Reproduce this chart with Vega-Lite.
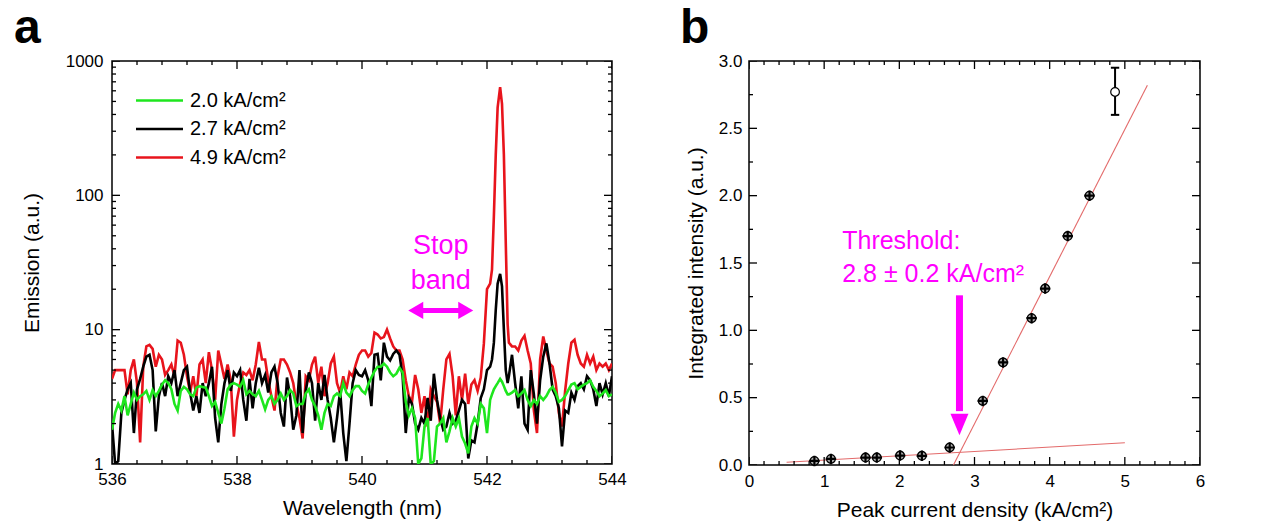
{
  "$schema": "https://vega.github.io/schema/vega-lite/v6.json",
  "padding": {"left": 13, "top": 4, "right": 0, "bottom": 0},
  "config": {
    "font": "Liberation Sans",
    "view": {"stroke": "#000", "strokeWidth": 1.5},
    "axis": {"domain": false, "grid": false, "labelColor": "#000", "labelFontSize": 17, "titleFontSize": 21, "titleFontWeight": "normal", "titleColor": "#000", "labelFlush": false, "labelOverlap": false},
    "title": {"color": "#000", "fontSize": 48, "fontWeight": "bold", "anchor": "start", "frame": "group", "baseline": "alphabetic"}
  },
  "datasets": {
    "spec": [
      {"w":536.00,"g":1.8,"k":2.0,"r":4.3},{"w":536.05,"g":2.4,"k":1.0,"r":5.0},{"w":536.10,"g":2.8,"k":1.05,"r":5.0},{"w":536.15,"g":2.5,"k":2.4,"r":5.0},{"w":536.20,"g":3.2,"k":3.0,"r":5.0},{"w":536.25,"g":2.3,"k":3.6,"r":3.3},{"w":536.30,"g":2.8,"k":4.0,"r":5.0},{"w":536.35,"g":3.4,"k":1.7,"r":6.0},{"w":536.40,"g":3.0,"k":3.6,"r":4.0},{"w":536.45,"g":3.2,"k":4.3,"r":1.45},
      {"w":536.50,"g":3.3,"k":5.3,"r":5.3},{"w":536.55,"g":3.5,"k":6.3,"r":7.5},{"w":536.60,"g":3.0,"k":6.5,"r":7.7},{"w":536.65,"g":3.55,"k":5.0,"r":7.2},{"w":536.70,"g":3.2,"k":1.75,"r":5.3},{"w":536.75,"g":3.5,"k":3.2,"r":6.5},{"w":536.80,"g":3.9,"k":4.0,"r":6.0},{"w":536.85,"g":4.2,"k":3.2,"r":4.6},{"w":536.90,"g":4.0,"k":4.5,"r":5.0},{"w":536.95,"g":3.6,"k":4.0,"r":5.5},
      {"w":537.00,"g":2.8,"k":5.0,"r":4.5},{"w":537.05,"g":2.5,"k":3.2,"r":8.3},{"w":537.10,"g":3.5,"k":4.0,"r":8.0},{"w":537.15,"g":3.75,"k":5.0,"r":6.5},{"w":537.20,"g":3.6,"k":5.3,"r":4.5},{"w":537.25,"g":3.3,"k":3.4,"r":3.4},{"w":537.30,"g":3.2,"k":2.5,"r":4.5},{"w":537.35,"g":3.7,"k":3.2,"r":3.2},{"w":537.40,"g":3.8,"k":2.4,"r":5.5},{"w":537.45,"g":3.75,"k":4.0,"r":6.0},
      {"w":537.50,"g":3.7,"k":3.2,"r":4.0},{"w":537.55,"g":3.2,"k":4.0,"r":6.8},{"w":537.60,"g":2.7,"k":5.3,"r":5.0},{"w":537.65,"g":2.9,"k":2.2,"r":3.0},{"w":537.70,"g":2.4,"k":1.45,"r":7.0},{"w":537.75,"g":2.0,"k":2.8,"r":5.5},{"w":537.80,"g":2.6,"k":4.0,"r":4.3},{"w":537.85,"g":3.6,"k":5.0,"r":5.5},{"w":537.90,"g":3.9,"k":3.5,"r":4.2},{"w":537.95,"g":4.0,"k":4.8,"r":1.6},
      {"w":538.00,"g":3.9,"k":4.5,"r":3.0},{"w":538.05,"g":3.75,"k":5.0,"r":4.0},{"w":538.10,"g":4.2,"k":3.0,"r":4.8},{"w":538.15,"g":3.3,"k":2.1,"r":4.6},{"w":538.20,"g":3.5,"k":4.3,"r":5.0},{"w":538.25,"g":3.3,"k":2.6,"r":4.2},{"w":538.30,"g":3.2,"k":4.0,"r":5.5},{"w":538.35,"g":3.5,"k":5.2,"r":8.1},{"w":538.40,"g":3.0,"k":4.0,"r":6.0},{"w":538.45,"g":2.55,"k":4.6,"r":6.0},
      {"w":538.50,"g":3.0,"k":3.4,"r":4.2},{"w":538.55,"g":3.2,"k":4.8,"r":3.2},{"w":538.60,"g":2.8,"k":5.3,"r":2.5},{"w":538.65,"g":3.0,"k":4.0,"r":4.5},{"w":538.70,"g":3.35,"k":2.4,"r":6.0},{"w":538.75,"g":3.0,"k":1.9,"r":6.0},{"w":538.80,"g":3.2,"k":4.4,"r":5.5},{"w":538.85,"g":3.55,"k":3.2,"r":4.8},{"w":538.90,"g":3.35,"k":1.8,"r":4.0},{"w":538.95,"g":2.7,"k":2.3,"r":2.8},
      {"w":539.00,"g":2.8,"k":5.0,"r":2.2},{"w":539.05,"g":2.8,"k":1.7,"r":1.55},{"w":539.10,"g":3.35,"k":3.5,"r":4.5},{"w":539.15,"g":3.6,"k":4.8,"r":4.2},{"w":539.20,"g":3.0,"k":4.0,"r":5.5},{"w":539.25,"g":2.7,"k":2.1,"r":6.3},{"w":539.30,"g":2.3,"k":4.0,"r":4.0},{"w":539.35,"g":1.8,"k":3.0,"r":5.3},{"w":539.40,"g":2.4,"k":4.6,"r":3.2},{"w":539.45,"g":2.8,"k":3.0,"r":4.0},
      {"w":539.50,"g":2.7,"k":2.2,"r":5.6},{"w":539.55,"g":3.2,"k":1.45,"r":6.3},{"w":539.60,"g":3.35,"k":2.2,"r":4.0},{"w":539.65,"g":3.2,"k":3.5,"r":3.4},{"w":539.70,"g":4.0,"k":1.7,"r":4.5},{"w":539.75,"g":3.4,"k":1.05,"r":3.6},{"w":539.80,"g":3.2,"k":2.0,"r":4.8},{"w":539.85,"g":3.55,"k":4.0,"r":4.5},{"w":539.90,"g":3.8,"k":5.0,"r":5.5},{"w":539.95,"g":3.8,"k":4.6,"r":6.5},
      {"w":540.00,"g":3.5,"k":4.5,"r":7.0},{"w":540.05,"g":3.35,"k":5.0,"r":7.0},{"w":540.10,"g":3.9,"k":4.2,"r":6.3},{"w":540.15,"g":4.4,"k":2.7,"r":6.7},{"w":540.20,"g":4.9,"k":6.5,"r":9.5},{"w":540.25,"g":5.3,"k":6.6,"r":9.2},{"w":540.30,"g":5.3,"k":4.2,"r":8.6},{"w":540.35,"g":5.6,"k":8.0,"r":8.8},{"w":540.40,"g":5.3,"k":6.3,"r":10.0},{"w":540.45,"g":4.8,"k":5.9,"r":8.6},
      {"w":540.50,"g":4.5,"k":6.6,"r":7.5},{"w":540.55,"g":4.7,"k":7.0,"r":7.0},{"w":540.60,"g":5.2,"k":6.5,"r":7.0},{"w":540.65,"g":4.8,"k":4.5,"r":6.0},{"w":540.70,"g":2.9,"k":1.7,"r":4.2},{"w":540.75,"g":2.3,"k":3.1,"r":3.2},{"w":540.80,"g":2.6,"k":2.8,"r":2.9},{"w":540.85,"g":2.2,"k":2.0,"r":4.6},{"w":540.90,"g":1.0,"k":1.8,"r":3.6},{"w":540.95,"g":1.1,"k":2.2,"r":2.4},
      {"w":541.00,"g":1.9,"k":2.0,"r":3.2},{"w":541.05,"g":2.2,"k":3.1,"r":1.9},{"w":541.10,"g":1.0,"k":2.1,"r":3.6},{"w":541.15,"g":1.05,"k":4.7,"r":3.2},{"w":541.20,"g":1.9,"k":3.0,"r":2.9},{"w":541.25,"g":2.0,"k":2.2,"r":2.0},{"w":541.30,"g":2.2,"k":1.8,"r":3.6},{"w":541.35,"g":1.45,"k":1.9,"r":6.0},{"w":541.40,"g":1.75,"k":2.4,"r":6.6},{"w":541.45,"g":2.2,"k":2.0,"r":4.5},
      {"w":541.50,"g":1.9,"k":2.1,"r":2.3},{"w":541.55,"g":2.2,"k":2.5,"r":4.5},{"w":541.60,"g":1.6,"k":3.0,"r":3.0},{"w":541.65,"g":1.42,"k":2.8,"r":4.7},{"w":541.70,"g":1.2,"k":1.1,"r":2.8},{"w":541.75,"g":1.9,"k":1.5,"r":3.9},{"w":541.80,"g":2.2,"k":1.45,"r":4.2},{"w":541.85,"g":2.0,"k":2.0,"r":3.5},{"w":541.90,"g":2.8,"k":3.1,"r":4.4},{"w":541.95,"g":2.6,"k":3.6,"r":7.9},
      {"w":542.00,"g":1.7,"k":5.0,"r":20},{"w":542.05,"g":3.0,"k":5.3,"r":22},{"w":542.08,"g":3.3,"k":6.0,"r":28},{"w":542.11,"g":3.6,"k":8.0,"r":70},{"w":542.14,"g":3.8,"k":14,"r":200},{"w":542.17,"g":4.0,"k":22,"r":450},{"w":542.21,"g":4.3,"k":26,"r":640},{"w":542.24,"g":4.1,"k":21,"r":480},{"w":542.27,"g":3.8,"k":10,"r":200},{"w":542.30,"g":3.5,"k":5.0,"r":45},{"w":542.33,"g":3.3,"k":4.0,"r":11},
      {"w":542.35,"g":3.3,"k":4.5,"r":8.0},{"w":542.40,"g":3.4,"k":6.5,"r":7.5},{"w":542.45,"g":3.55,"k":4.0,"r":7.5},{"w":542.50,"g":3.2,"k":2.6,"r":7.0},{"w":542.55,"g":3.35,"k":4.5,"r":8.3},{"w":542.60,"g":3.55,"k":2.0,"r":9.0},{"w":542.65,"g":3.0,"k":1.8,"r":7.0},{"w":542.70,"g":2.7,"k":5.0,"r":5.6},{"w":542.75,"g":3.0,"k":3.3,"r":2.5},{"w":542.80,"g":2.8,"k":2.0,"r":1.7},
      {"w":542.85,"g":3.2,"k":4.2,"r":6.0},{"w":542.90,"g":3.0,"k":6.3,"r":8.9},{"w":542.95,"g":3.2,"k":7.9,"r":7.0},{"w":543.00,"g":3.55,"k":5.6,"r":5.6},{"w":543.05,"g":3.75,"k":3.6,"r":5.3},{"w":543.10,"g":3.4,"k":3.2,"r":4.0},{"w":543.15,"g":2.9,"k":2.6,"r":2.4},{"w":543.20,"g":3.0,"k":1.35,"r":1.9},{"w":543.25,"g":3.2,"k":2.5,"r":3.5},{"w":543.30,"g":3.55,"k":2.4,"r":5.6},
      {"w":543.35,"g":3.9,"k":3.4,"r":8.0},{"w":543.40,"g":4.0,"k":3.0,"r":8.4},{"w":543.45,"g":3.6,"k":3.8,"r":6.5},{"w":543.50,"g":3.75,"k":4.0,"r":5.6},{"w":543.55,"g":3.9,"k":3.6,"r":5.3},{"w":543.60,"g":4.0,"k":4.5,"r":6.5},{"w":543.65,"g":4.2,"k":4.2,"r":5.6},{"w":543.70,"g":3.75,"k":3.6,"r":6.3},{"w":543.75,"g":3.5,"k":2.7,"r":5.0},{"w":543.80,"g":3.2,"k":4.0,"r":5.6},
      {"w":543.85,"g":3.35,"k":3.3,"r":5.3},{"w":543.90,"g":3.55,"k":4.0,"r":5.6},{"w":543.95,"g":3.2,"k":3.2,"r":5.0},{"w":544.00,"g":3.3,"k":4.5,"r":5.6}
    ],
    "pts": [
      {"x":0.87,"y":0.03},{"x":1.09,"y":0.045},{"x":1.55,"y":0.055},{"x":1.70,"y":0.055},{"x":2.01,"y":0.07},{"x":2.30,"y":0.068},{"x":2.67,"y":0.13},
      {"x":3.11,"y":0.476},{"x":3.38,"y":0.762},{"x":3.76,"y":1.09},{"x":3.94,"y":1.31},{"x":4.24,"y":1.70},{"x":4.53,"y":2.00}
    ],
    "open": [{"x":4.87,"y":2.77,"lo":2.60,"hi":2.95}],
    "fit": [
      {"x":0.5,"y":0.02,"g":"sub"},{"x":5.0,"y":0.165,"g":"sub"},
      {"x":2.72,"y":0.0,"g":"las"},{"x":5.3,"y":2.82,"g":"las"}
    ],
    "one": [{}],
    "tax": [
      {"v":536,"s":"M"},{"v":536.4,"s":"m"},{"v":536.8,"s":"m"},{"v":537.2,"s":"m"},{"v":537.6,"s":"m"},{"v":538,"s":"M"},{"v":538.4,"s":"m"},{"v":538.8,"s":"m"},{"v":539.2,"s":"m"},{"v":539.6,"s":"m"},
      {"v":540,"s":"M"},{"v":540.4,"s":"m"},{"v":540.8,"s":"m"},{"v":541.2,"s":"m"},{"v":541.6,"s":"m"},{"v":542,"s":"M"},{"v":542.4,"s":"m"},{"v":542.8,"s":"m"},{"v":543.2,"s":"m"},{"v":543.6,"s":"m"},{"v":544,"s":"M"}
    ],
    "tay": [
      {"v":1,"s":"M"},{"v":2,"s":"m"},{"v":3,"s":"m"},{"v":4,"s":"m"},{"v":5,"s":"m"},{"v":6,"s":"m"},{"v":7,"s":"m"},{"v":8,"s":"m"},{"v":9,"s":"m"},
      {"v":10,"s":"M"},{"v":20,"s":"m"},{"v":30,"s":"m"},{"v":40,"s":"m"},{"v":50,"s":"m"},{"v":60,"s":"m"},{"v":70,"s":"m"},{"v":80,"s":"m"},{"v":90,"s":"m"},
      {"v":100,"s":"M"},{"v":200,"s":"m"},{"v":300,"s":"m"},{"v":400,"s":"m"},{"v":500,"s":"m"},{"v":600,"s":"m"},{"v":700,"s":"m"},{"v":800,"s":"m"},{"v":900,"s":"m"},{"v":1000,"s":"M"}
    ],
    "tbx": [
      {"v":0,"s":"M"},{"v":0.2,"s":"m"},{"v":0.4,"s":"m"},{"v":0.6,"s":"m"},{"v":0.8,"s":"m"},{"v":1,"s":"M"},{"v":1.2,"s":"m"},{"v":1.4,"s":"m"},{"v":1.6,"s":"m"},{"v":1.8,"s":"m"},
      {"v":2,"s":"M"},{"v":2.2,"s":"m"},{"v":2.4,"s":"m"},{"v":2.6,"s":"m"},{"v":2.8,"s":"m"},{"v":3,"s":"M"},{"v":3.2,"s":"m"},{"v":3.4,"s":"m"},{"v":3.6,"s":"m"},{"v":3.8,"s":"m"},
      {"v":4,"s":"M"},{"v":4.2,"s":"m"},{"v":4.4,"s":"m"},{"v":4.6,"s":"m"},{"v":4.8,"s":"m"},{"v":5,"s":"M"},{"v":5.2,"s":"m"},{"v":5.4,"s":"m"},{"v":5.6,"s":"m"},{"v":5.8,"s":"m"},{"v":6,"s":"M"}
    ],
    "tby": [
      {"v":0,"s":"M"},{"v":0.25,"s":"m"},{"v":0.5,"s":"M"},{"v":0.75,"s":"m"},{"v":1,"s":"M"},{"v":1.25,"s":"m"},{"v":1.5,"s":"M"},{"v":1.75,"s":"m"},
      {"v":2,"s":"M"},{"v":2.25,"s":"m"},{"v":2.5,"s":"M"},{"v":2.75,"s":"m"},{"v":3,"s":"M"}
    ]
  },
  "spacing": 52,
  "hconcat": [
    {
      "width": 500,
      "height": 403,
      "title": {"text": "a", "dx": -98, "offset": -1},
      "resolve": {"axis": {"x": "independent", "y": "independent"}},
      "layer": [
        {
          "data": {"name": "spec"},
          "transform": [{"fold": ["r", "k", "g"], "as": ["s", "v"]}],
          "mark": {"type": "line", "strokeWidth": 2.6, "clip": true},
          "encoding": {
            "x": {"field": "w", "type": "quantitative", "scale": {"domain": [536, 544], "nice": false, "zero": false},
              "axis": {"orient": "bottom", "title": "Wavelength (nm)", "values": [536,538,540,542,544], "ticks": false, "tickSize": 0, "labelPadding": 7, "titlePadding": 10, "labelFlush": false}},
            "y": {"field": "v", "type": "quantitative", "scale": {"type": "log", "domain": [1, 1000], "nice": false},
              "axis": {"orient": "left", "title": "Emission (a.u.)", "values": [1,10,100,1000], "labelExpr": "'' + datum.value", "ticks": false, "tickSize": 0, "labelPadding": 9, "titlePadding": 23}},
            "color": {"field": "s", "type": "nominal",
              "scale": {"domain": ["g", "k", "r"], "range": ["#1ee61e", "#000000", "#e8141c"]},
              "legend": {"orient": "none", "legendX": 34, "legendY": 26, "title": null, "symbolType": "M-2,0L2,0", "symbolSize": 552, "symbolStrokeWidth": 2.6, "symbolFillColor": "transparent", "labelFontSize": 20, "labelOffset": 17, "rowPadding": 4.5, "labelColor": "#000",
                "labelExpr": "datum.label == 'g' ? '2.0 kA/cm²' : datum.label == 'k' ? '2.7 kA/cm²' : '4.9 kA/cm²'"}}
          }
        },
        {
          "data": {"name": "tax"},
          "mark": {"type": "tick", "orient": "vertical", "color": "#000", "thickness": 1.3, "clip": true, "opacity": 1},
          "encoding": {
            "x": {"field": "v", "type": "quantitative", "axis": null},
            "y": {"datum": 1, "type": "quantitative", "axis": null},
            "size": {"field": "s", "type": "ordinal", "scale": {"domain": ["M", "m"], "range": [16, 8]}, "legend": null}
          }
        },
        {
          "data": {"name": "tax"},
          "mark": {"type": "tick", "orient": "vertical", "color": "#000", "thickness": 1.3, "clip": true, "opacity": 1},
          "encoding": {
            "x": {"field": "v", "type": "quantitative", "axis": null},
            "y": {"datum": 1000, "type": "quantitative", "axis": null},
            "size": {"field": "s", "type": "ordinal", "scale": {"domain": ["M", "m"], "range": [16, 8]}, "legend": null}
          }
        },
        {
          "data": {"name": "tay"},
          "mark": {"type": "tick", "orient": "horizontal", "color": "#000", "thickness": 1.3, "clip": true, "opacity": 1},
          "encoding": {
            "y": {"field": "v", "type": "quantitative", "axis": null},
            "x": {"datum": 536, "type": "quantitative", "axis": null},
            "size": {"field": "s", "type": "ordinal", "scale": {"domain": ["M", "m"], "range": [16, 8]}, "legend": null}
          }
        },
        {
          "data": {"name": "tay"},
          "mark": {"type": "tick", "orient": "horizontal", "color": "#000", "thickness": 1.3, "clip": true, "opacity": 1},
          "encoding": {
            "y": {"field": "v", "type": "quantitative", "axis": null},
            "x": {"datum": 544, "type": "quantitative", "axis": null},
            "size": {"field": "s", "type": "ordinal", "scale": {"domain": ["M", "m"], "range": [16, 8]}, "legend": null}
          }
        },
        {
          "data": {"name": "one"},
          "mark": {"type": "rule", "stroke": "#ff00ff", "strokeWidth": 5},
          "encoding": {
            "x": {"datum": 540.85, "type": "quantitative", "axis": null},
            "x2": {"datum": 541.67},
            "y": {"datum": 13.9, "type": "quantitative", "axis": null}
          }
        },
        {
          "data": {"name": "one"},
          "mark": {"type": "point", "shape": "M0,0L2,-1.15L2,1.15Z", "filled": true, "fill": "#ff00ff", "strokeWidth": 0, "size": 225, "opacity": 1},
          "encoding": {
            "x": {"datum": 540.74, "type": "quantitative", "axis": null},
            "y": {"datum": 13.9, "type": "quantitative", "axis": null}
          }
        },
        {
          "data": {"name": "one"},
          "mark": {"type": "point", "shape": "M0,0L-2,-1.15L-2,1.15Z", "filled": true, "fill": "#ff00ff", "strokeWidth": 0, "size": 225, "opacity": 1},
          "encoding": {
            "x": {"datum": 541.78, "type": "quantitative", "axis": null},
            "y": {"datum": 13.9, "type": "quantitative", "axis": null}
          }
        },
        {
          "data": {"name": "one"},
          "mark": {"type": "text", "text": "Stop", "color": "#ff00ff", "fontSize": 27, "align": "center", "baseline": "alphabetic"},
          "encoding": {
            "x": {"datum": 541.26, "type": "quantitative", "axis": null},
            "y": {"datum": 36.3, "type": "quantitative", "axis": null}
          }
        },
        {
          "data": {"name": "one"},
          "mark": {"type": "text", "text": "band", "color": "#ff00ff", "fontSize": 27, "align": "center", "baseline": "alphabetic"},
          "encoding": {
            "x": {"datum": 541.26, "type": "quantitative", "axis": null},
            "y": {"datum": 20.2, "type": "quantitative", "axis": null}
          }
        }
      ]
    },
    {
      "width": 451,
      "height": 404,
      "title": {"text": "b", "dx": -69, "offset": -1},
      "resolve": {"axis": {"x": "independent", "y": "independent"}},
      "layer": [
        {
          "data": {"name": "fit"},
          "mark": {"type": "line", "stroke": "#e36a6a", "strokeWidth": 1.1},
          "encoding": {
            "x": {"field": "x", "type": "quantitative", "scale": {"domain": [0, 6], "nice": false},
              "axis": {"orient": "bottom", "title": "Peak current density (kA/cm²)", "values": [0,1,2,3,4,5,6], "ticks": false, "tickSize": 0, "labelPadding": 8, "titlePadding": 10, "labelFlush": false}},
            "y": {"field": "y", "type": "quantitative", "scale": {"domain": [0, 3], "nice": false},
              "axis": {"orient": "left", "title": "Integrated intensity (a.u.)", "values": [0,0.5,1,1.5,2,2.5,3], "labelExpr": "format(datum.value, '.1f')", "ticks": false, "tickSize": 0, "labelPadding": 7, "titlePadding": 12}},
            "detail": {"field": "g"}
          }
        },
        {
          "data": {"name": "tbx"},
          "mark": {"type": "tick", "orient": "vertical", "color": "#000", "thickness": 1.3, "clip": true, "opacity": 1},
          "encoding": {
            "x": {"field": "v", "type": "quantitative", "axis": null},
            "y": {"datum": 0, "type": "quantitative", "axis": null},
            "size": {"field": "s", "type": "ordinal", "scale": {"domain": ["M", "m"], "range": [16, 8]}, "legend": null}
          }
        },
        {
          "data": {"name": "tbx"},
          "mark": {"type": "tick", "orient": "vertical", "color": "#000", "thickness": 1.3, "clip": true, "opacity": 1},
          "encoding": {
            "x": {"field": "v", "type": "quantitative", "axis": null},
            "y": {"datum": 3, "type": "quantitative", "axis": null},
            "size": {"field": "s", "type": "ordinal", "scale": {"domain": ["M", "m"], "range": [16, 8]}, "legend": null}
          }
        },
        {
          "data": {"name": "tby"},
          "mark": {"type": "tick", "orient": "horizontal", "color": "#000", "thickness": 1.3, "clip": true, "opacity": 1},
          "encoding": {
            "y": {"field": "v", "type": "quantitative", "axis": null},
            "x": {"datum": 0, "type": "quantitative", "axis": null},
            "size": {"field": "s", "type": "ordinal", "scale": {"domain": ["M", "m"], "range": [16, 8]}, "legend": null}
          }
        },
        {
          "data": {"name": "tby"},
          "mark": {"type": "tick", "orient": "horizontal", "color": "#000", "thickness": 1.3, "clip": true, "opacity": 1},
          "encoding": {
            "y": {"field": "v", "type": "quantitative", "axis": null},
            "x": {"datum": 6, "type": "quantitative", "axis": null},
            "size": {"field": "s", "type": "ordinal", "scale": {"domain": ["M", "m"], "range": [16, 8]}, "legend": null}
          }
        },
        {
          "data": {"name": "pts"},
          "mark": {"type": "point", "shape": "circle", "filled": true, "fill": "#b0b0b0", "stroke": "#000", "strokeWidth": 1.3, "size": 75, "opacity": 1},
          "encoding": {
            "x": {"field": "x", "type": "quantitative", "axis": null},
            "y": {"field": "y", "type": "quantitative", "axis": null}
          }
        },
        {
          "data": {"name": "pts"},
          "mark": {"type": "point", "shape": "M-1,0L1,0M0,-1L0,1", "filled": false, "stroke": "#000", "strokeWidth": 2.2, "size": 110, "opacity": 1},
          "encoding": {
            "x": {"field": "x", "type": "quantitative", "axis": null},
            "y": {"field": "y", "type": "quantitative", "axis": null}
          }
        },
        {
          "data": {"name": "open"},
          "mark": {"type": "rule", "stroke": "#000", "strokeWidth": 2},
          "encoding": {
            "x": {"field": "x", "type": "quantitative", "axis": null},
            "y": {"field": "lo", "type": "quantitative", "axis": null},
            "y2": {"field": "hi"}
          }
        },
        {
          "data": {"name": "open"},
          "mark": {"type": "point", "shape": "M-1,0L1,0", "filled": false, "stroke": "#000", "strokeWidth": 2, "size": 70, "opacity": 1},
          "encoding": {
            "x": {"field": "x", "type": "quantitative", "axis": null},
            "y": {"field": "lo", "type": "quantitative", "axis": null}
          }
        },
        {
          "data": {"name": "open"},
          "mark": {"type": "point", "shape": "M-1,0L1,0", "filled": false, "stroke": "#000", "strokeWidth": 2, "size": 70, "opacity": 1},
          "encoding": {
            "x": {"field": "x", "type": "quantitative", "axis": null},
            "y": {"field": "hi", "type": "quantitative", "axis": null}
          }
        },
        {
          "data": {"name": "open"},
          "mark": {"type": "point", "shape": "circle", "filled": true, "fill": "#fff", "stroke": "#000", "strokeWidth": 1.2, "size": 75, "opacity": 1},
          "encoding": {
            "x": {"field": "x", "type": "quantitative", "axis": null},
            "y": {"field": "y", "type": "quantitative", "axis": null}
          }
        },
        {
          "data": {"name": "one"},
          "mark": {"type": "rule", "stroke": "#ff00ff", "strokeWidth": 7},
          "encoding": {
            "x": {"datum": 2.8, "type": "quantitative", "axis": null},
            "y": {"datum": 1.26, "type": "quantitative", "axis": null},
            "y2": {"datum": 0.4}
          }
        },
        {
          "data": {"name": "one"},
          "mark": {"type": "point", "shape": "M0,0L-1,-2.4L1,-2.4Z", "filled": true, "fill": "#ff00ff", "strokeWidth": 0, "size": 324, "opacity": 1},
          "encoding": {
            "x": {"datum": 2.8, "type": "quantitative", "axis": null},
            "y": {"datum": 0.22, "type": "quantitative", "axis": null}
          }
        },
        {
          "data": {"name": "one"},
          "mark": {"type": "text", "text": "Threshold:", "color": "#ff00ff", "fontSize": 25, "align": "left", "baseline": "alphabetic"},
          "encoding": {
            "x": {"datum": 1.24, "type": "quantitative", "axis": null},
            "y": {"datum": 1.606, "type": "quantitative", "axis": null}
          }
        },
        {
          "data": {"name": "one"},
          "mark": {"type": "text", "text": "2.8 ± 0.2 kA/cm²", "color": "#ff00ff", "fontSize": 25, "align": "left", "baseline": "alphabetic"},
          "encoding": {
            "x": {"datum": 1.24, "type": "quantitative", "axis": null},
            "y": {"datum": 1.357, "type": "quantitative", "axis": null}
          }
        }
      ]
    }
  ]
}
